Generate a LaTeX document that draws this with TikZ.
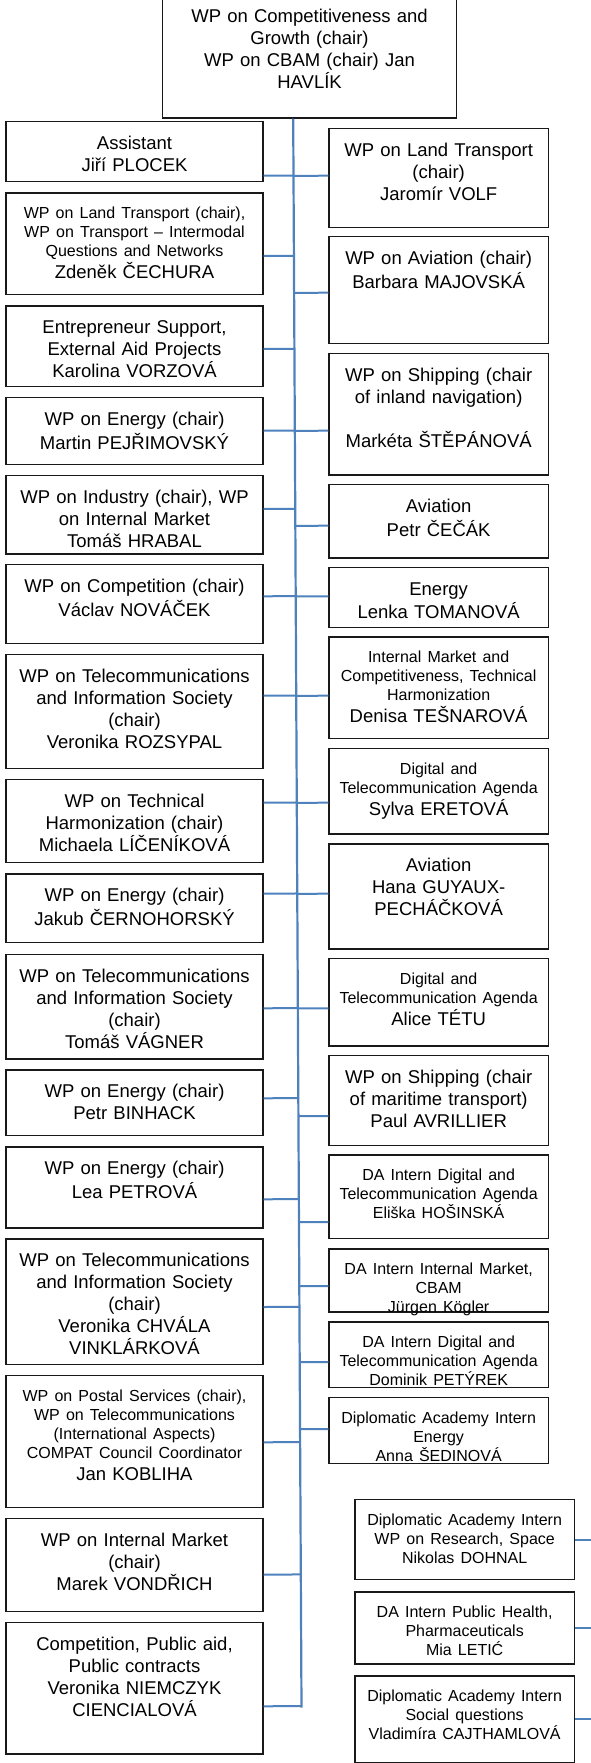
\documentclass[tikz,border=0pt]{standalone}
\usepackage{fontspec}
\setmainfont{Liberation Sans}
\usetikzlibrary{calc}
\setlength\parindent{0pt}
\setlength\parskip{0pt}
\definecolor{linkblue}{RGB}{79,129,189}
\def\lcolx{5.3}  \def\lcolw{257}
\def\rcolx{328.3} \def\rcolw{219.3}
\def\dcolx{354.3}
% small lines of a box (the name line after it stays large)
\newcommand\smtxt[1]{{\fontsize{16}{19}\selectfont\strut#1\par}}
% one box: name, x, top y, width, height, text
\newcommand\post[6]{
    \pgfmathsetmacro\tw{#4-8}
    \node[post, minimum width=#4, minimum height=#5] (#1) at (#2,#3) {};
    \node[posttext, text width=\tw pt] (#1-t) at (#1.north) {#6};
}

\begin{document}
\begin{tikzpicture}[
    x=1pt, y=-1pt,
    post/.style={draw=black!90, line width=1.4pt, fill=white, anchor=north west, inner sep=0pt},
    posttext/.style={anchor=north, align=center, inner xsep=0pt, inner ysep=13pt, font=\fontsize{18.5}{22}\selectfont},
    link/.style={draw=linkblue, line width=2pt},
    spine/.style={draw=linkblue, line width=2.2pt}
  ]
  \useasboundingbox (0,0) rectangle (591,1763);

  % Head of the team
  \post{head}{161.7}{-5.8}{294.3}{123.1}{\strut WP on Competitiveness and\\Growth (chair)\\WP on CBAM (chair) Jan\\HAVLÍK}

  % Left column
  \post{l1}{\lcolx}{120.7}{\lcolw}{60.3}{\strut Assistant\\Jiří PLOCEK}
  \post{l2}{\lcolx}{192.3}{\lcolw}{101.7}{\smtxt{WP on Land Transport (chair),\\WP on Transport – Intermodal\\Questions and Networks}Zdeněk ČECHURA}
  \post{l3}{\lcolx}{305.3}{\lcolw}{80.7}{\strut Entrepreneur Support,\\External Aid Projects\\Karolina VORZOVÁ}
  \post{l4}{\lcolx}{396.7}{\lcolw}{67.3}{\strut WP on Energy (chair)\\Martin PEJŘIMOVSKÝ}
  \post{l5}{\lcolx}{474.7}{\lcolw}{78.6}{\strut WP on Industry (chair), WP\\on Internal Market\\Tomáš HRABAL}
  \post{l6}{\lcolx}{564}{\lcolw}{78.7}{\strut WP on Competition (chair)\\Václav NOVÁČEK}
  \post{l7}{\lcolx}{654}{\lcolw}{113.7}{\strut WP on Telecommunications\\and Information Society\\(chair)\\Veronika ROZSYPAL}
  \post{l8}{\lcolx}{778.7}{\lcolw}{83.3}{\strut WP on Technical\\Harmonization (chair)\\Michaela LÍČENÍKOVÁ}
  \post{l9}{\lcolx}{873.3}{\lcolw}{68.7}{\strut WP on Energy (chair)\\Jakub ČERNOHORSKÝ}
  \post{l10}{\lcolx}{953.7}{\lcolw}{104.6}{\strut WP on Telecommunications\\and Information Society\\(chair)\\Tomáš VÁGNER}
  \post{l11}{\lcolx}{1069.3}{\lcolw}{65.7}{\strut WP on Energy (chair)\\Petr BINHACK}
  \post{l12}{\lcolx}{1146.3}{\lcolw}{81}{\strut WP on Energy (chair)\\Lea PETROVÁ}
  \post{l13}{\lcolx}{1238.3}{\lcolw}{125.7}{\strut WP on Telecommunications\\and Information Society\\(chair)\\Veronika CHVÁLA\\VINKLÁRKOVÁ}
  \post{l14}{\lcolx}{1375}{\lcolw}{131.7}{\smtxt{WP on Postal Services (chair),\\WP on Telecommunications\\(International Aspects)\\COMPAT Council Coordinator}Jan KOBLIHA}
  \post{l15}{\lcolx}{1517.7}{\lcolw}{93}{\strut WP on Internal Market\\(chair)\\Marek VONDŘICH}
  \post{l16}{\lcolx}{1621.7}{\lcolw}{131.6}{\strut Competition, Public aid,\\Public contracts\\Veronika NIEMCZYK\\CIENCIALOVÁ}

  % Right column
  \post{r1}{\rcolx}{128}{\rcolw}{98.7}{\strut WP on Land Transport\\(chair)\\Jaromír VOLF}
  \post{r2}{\rcolx}{236}{\rcolw}{106.7}{\strut WP on Aviation (chair)\\Barbara MAJOVSKÁ}
  \post{r3}{\rcolx}{352.7}{\rcolw}{121.6}{\strut WP on Shipping (chair\\of inland navigation)\\[22pt]Markéta ŠTĚPÁNOVÁ}
  \post{r4}{\rcolx}{484}{\rcolw}{73.3}{\strut Aviation\\Petr ČEČÁK}
  \post{r5}{\rcolx}{566.7}{\rcolw}{60}{\strut Energy\\Lenka TOMANOVÁ}
  \post{r6}{\rcolx}{636.3}{\rcolw}{101.7}{\smtxt{Internal Market and\\Competitiveness, Technical\\Harmonization}Denisa TEŠNAROVÁ}
  \post{r7}{\rcolx}{747.7}{\rcolw}{85.6}{\smtxt{Digital and\\Telecommunication Agenda}Sylva ERETOVÁ}
  \post{r8}{\rcolx}{843.3}{\rcolw}{105}{\strut Aviation\\Hana GUYAUX-\\PECHÁČKOVÁ}
  \post{r9}{\rcolx}{957.7}{\rcolw}{87.6}{\smtxt{Digital and\\Telecommunication Agenda}Alice TÉTU}
  \post{r10}{\rcolx}{1055}{\rcolw}{89.7}{\strut WP on Shipping (chair\\of maritime transport)\\Paul AVRILLIER}
  \post{r11}{\rcolx}{1154.3}{\rcolw}{83.7}{\smtxt{DA Intern Digital and\\Telecommunication Agenda\\Eliška HOŠINSKÁ}}
  \post{r12}{\rcolx}{1248.3}{\rcolw}{63}{\smtxt{DA Intern Internal Market,\\CBAM\\Jürgen Kögler}}
  \post{r13}{\rcolx}{1321.3}{\rcolw}{65.7}{\smtxt{DA Intern Digital and\\Telecommunication Agenda\\Dominik PETÝREK}}
  \post{r14}{\rcolx}{1396.7}{\rcolw}{66.3}{\smtxt{Diplomatic Academy Intern\\Energy\\Anna ŠEDINOVÁ}}

  % Interns linked off to the right
  \post{d1}{\dcolx}{1499}{\rcolw}{80}{\smtxt{Diplomatic Academy Intern\\WP on Research, Space\\Nikolas DOHNAL}}
  \post{d2}{\dcolx}{1591.3}{\rcolw}{72}{\smtxt{DA Intern Public Health,\\Pharmaceuticals\\Mia LETIĆ}}
  \post{d3}{\dcolx}{1675.3}{\rcolw}{86.4}{\smtxt{Diplomatic Academy Intern\\Social questions\\Vladimíra CAJTHAMLOVÁ}}

  % Spine under the head
  \coordinate (spine-top) at (head.south -| 293.2,0);
  \coordinate (spine-bot) at (301.5,1707.5);
  \coordinate (rim) at (591,0);

  % Left boxes to the spine
  \foreach \n/\y in {l1/175.7, l2/256, l3/349, l4/430.7, l5/509, l6/596.3, l7/695.7, l8/802.7,
                     l9/893.7, l10/1008.3, l11/1098.3, l12/1199.3, l13/1307, l14/1442.3, l15/1574.7, l16/1706.3}{
    \coordinate (p) at (\n.east |- 0,\y);
    \draw[link] (p) -- ($(spine-top)!(p)!(spine-bot)$);
  }

  % Spine to the right boxes
  \foreach \n/\y in {r1/175.7, r2/292.7, r3/430.7, r4/525.7, r5/596.3, r6/695.7, r7/802.7,
                     r8/893.7, r9/1008.3, r10/1116, r11/1222, r12/1286, r13/1362, r14/1429}{
    \coordinate (p) at (\n.west |- 0,\y);
    \draw[link] ($(spine-top)!(p)!(spine-bot)$) -- (p);
  }

  \foreach \n in {d1,d2,d3}
    \draw[link] (\n.east) -- (\n.east -| rim);

  \draw[spine] (spine-top) -- (spine-bot);
\end{tikzpicture}
\end{document}
